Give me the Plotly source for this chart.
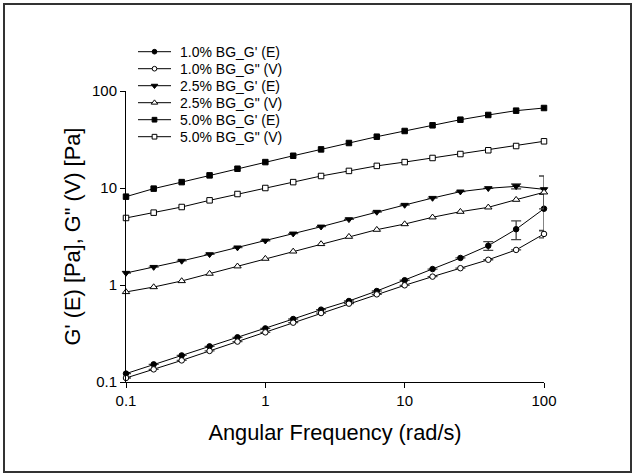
import plotly.graph_objects as go

freq = [0.1, 0.158, 0.251, 0.398, 0.631, 1.0, 1.585, 2.512, 3.981, 6.31,
        10.0, 15.85, 25.12, 39.81, 63.1, 100.0]

g1_E = [0.122, 0.152, 0.188, 0.233, 0.289, 0.357, 0.446, 0.557, 0.684, 0.867,
        1.12, 1.46, 1.90, 2.54, 3.76, 6.12]
g1_E_err = [None]*13 + [0.26, 0.82, 2.5]
g1_V = [0.110, 0.135, 0.167, 0.209, 0.261, 0.325, 0.409, 0.514, 0.642, 0.801,
        0.993, 1.22, 1.49, 1.82, 2.30, 3.36]
g1_V_err = [None]*15 + [0.3]

g25_E = [1.33, 1.53, 1.77, 2.07, 2.43, 2.86, 3.38, 3.99, 4.75, 5.66,
         6.68, 7.88, 9.17, 9.93, 10.4, 9.69]
g25_E_err = [None]*14 + [0.6, 3.6]
g25_V = [0.848, 0.953, 1.10, 1.31, 1.56, 1.87, 2.22, 2.65, 3.15, 3.72,
         4.25, 4.99, 5.70, 6.32, 7.58, 9.03]

g5_E = [8.14, 9.85, 11.5, 13.5, 15.8, 18.5, 21.5, 25.0, 29.1, 33.8,
        38.7, 44.3, 50.6, 56.6, 62.7, 66.8]
g5_V = [4.91, 5.57, 6.37, 7.46, 8.67, 10.0, 11.5, 13.3, 15.0, 16.9,
        18.5, 20.4, 22.4, 24.5, 27.1, 30.3]

series_names = ["1.0% BG_G' (E)", "1.0% BG_G\" (V)", "2.5% BG_G' (E)",
                "2.5% BG_G\" (V)", "5.0% BG_G' (E)", "5.0% BG_G\" (V)"]

tick_vals = [0.1, 1, 10, 100]
tick_text = ["0.1", "1", "10", "100"]

x_title = "Angular Frequency (rad/s)"
y_title = "G' (E) [Pa], G\" (V) [Pa]"

series = [
    (series_names[0], g1_E, g1_E_err, "circle", "black"),
    (series_names[1], g1_V, g1_V_err, "circle", "white"),
    (series_names[2], g25_E, g25_E_err, "triangle-down", "black"),
    (series_names[3], g25_V, None, "triangle-up", "white"),
    (series_names[4], g5_E, None, "square", "black"),
    (series_names[5], g5_V, None, "square", "white"),
]

FW, FH = 635, 476
L, T, R, B = 126, 91, 544, 382          # plot area in pixels
font = "Liberation Sans, Arial, sans-serif"


def msize(sym, legend=False):
    base = 6.5 if "triangle" in sym else 5.5
    return base - 0.8 if legend else base


fig = go.Figure()
for name, vals, err, sym, fill in series:
    kw = {}
    if err is not None:
        kw["error_y"] = dict(type="data", array=err, symmetric=True,
                             color="#444", thickness=1.3, width=5)
    fig.add_trace(go.Scatter(
        x=freq, y=vals, name=name, mode="lines+markers", showlegend=False,
        line=dict(color="black", width=1),
        marker=dict(symbol=sym, size=msize(sym), color=fill,
                    line=dict(color="black", width=1)),
        cliponaxis=False, xaxis="x", yaxis="y", **kw))

# legend keys drawn on a pixel-scaled overlay axis pair
leg_x0, leg_x1, leg_text_x, leg_y0, leg_dy = 138, 171, 178, 51.7, 17
annotations = []
for i, (name, vals, err, sym, fill) in enumerate(series):
    yy = leg_y0 + i * leg_dy
    fig.add_trace(go.Scatter(
        x=[leg_x0, leg_x1], y=[yy, yy], mode="lines", showlegend=False,
        line=dict(color="black", width=1), hoverinfo="skip",
        xaxis="x2", yaxis="y2"))
    fig.add_trace(go.Scatter(
        x=[(leg_x0 + leg_x1) / 2], y=[yy], mode="markers", showlegend=False,
        marker=dict(symbol=sym, size=msize(sym, True), color=fill,
                    line=dict(color="black", width=1)),
        hoverinfo="skip", xaxis="x2", yaxis="y2"))
    annotations.append(dict(x=leg_text_x, y=yy, xref="x2", yref="y2",
                            text=name, showarrow=False, xanchor="left",
                            yanchor="middle", font=dict(size=14)))

fig.update_layout(
    width=FW, height=FH,
    margin=dict(l=0, r=0, t=0, b=0, autoexpand=False),
    paper_bgcolor="white", plot_bgcolor="rgba(0,0,0,0)",
    font=dict(family=font, color="black"),
    showlegend=False,
    xaxis=dict(type="log", range=[-1, 2], domain=[L / FW, R / FW],
               anchor="y", showgrid=False, zeroline=False,
               showline=True, linecolor="black", linewidth=1,
               ticks="outside", ticklen=5, tickcolor="black",
               tickvals=tick_vals, ticktext=tick_text,
               tickfont=dict(size=15),
               title=dict(text=x_title, font=dict(size=21.8), standoff=16)),
    yaxis=dict(type="log", range=[-1, 2],
               domain=[(FH - B) / FH, (FH - T) / FH],
               anchor="x", showgrid=False, zeroline=False,
               showline=True, linecolor="black", linewidth=1,
               ticks="outside", ticklen=5, tickcolor="black",
               tickvals=tick_vals, ticktext=tick_text,
               tickfont=dict(size=15),
               title=dict(text=y_title, font=dict(size=21.8), standoff=5)),
    xaxis2=dict(domain=[0, 1], range=[0, FW], anchor="y2", visible=False,
                fixedrange=True),
    yaxis2=dict(domain=[0, 1], range=[FH, 0], anchor="x2", visible=False,
                fixedrange=True),
    annotations=annotations,
    shapes=[dict(type="rect", xref="x2", yref="y2",
                 x0=4, x1=631, y0=4, y1=472,
                 line=dict(color="#333", width=2), layer="below")],
)

fig.write_html("out.html", config={"displayModeBar": False},
               post_script="document.body.style.margin='0';")
